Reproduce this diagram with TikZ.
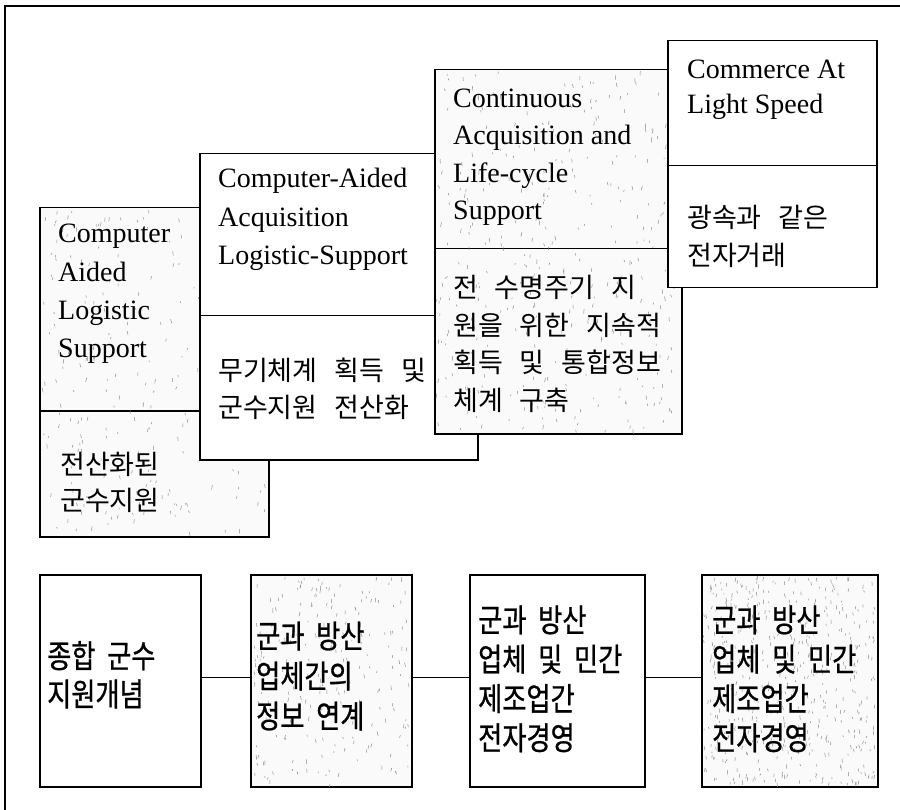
\documentclass[tikz,border=0pt]{standalone}
\usepackage{fontspec}
\setmainfont{Liberation Serif}
\newfontfamily\kofont[WordSpace=2.8]{Noto Sans CJK KR}
\newfontfamily\kobfont[FakeStretch=0.82,FakeBold=0.8,WordSpace=2]{Noto Sans CJK KR}
\tikzset{
  boxw/.style={draw, line width=1.5pt, fill=white, inner sep=0pt, rectangle, anchor=north west},
  boxs/.style={boxw, fill=black!2},
  entext/.style={inner sep=0pt, anchor=west, align=left, font=\fontsize{28}{#1}\selectfont},
  kotext/.style={inner sep=0pt, anchor=west, align=left, font=\kofont\fontsize{27}{#1}\selectfont},
  kobtext/.style={inner sep=0pt, anchor=west, align=left, font=\kobfont\fontsize{32}{#1}\selectfont},
  link/.style={line width=1.3pt},
  frameline/.style={line width=1.5pt},
  speck/.style={draw=black!45, line width=0.5pt}
}
% random short strokes imitating the stippled screen of the shaded boxes
\newcommand\speckbox[5]{%
  \begin{scope}
  \clip (#1,#2) rectangle (#3,#4);
  \foreach \k in {1,...,#5} {
    \pgfmathsetmacro\spx{#1+2+rnd*(#3-#1-4)}
    \pgfmathsetmacro\spy{#2+2+rnd*(#4-#2-4)}
    \pgfmathsetmacro\spl{1.5+rnd*3}
    \pgfmathsetmacro\spd{rnd*2-1}
    \draw[speck] (\spx,\spy) -- ++(\spd,\spl);
  }
  \end{scope}}
\begin{document}
\begin{tikzpicture}[x=1pt,y=-1pt]
\pgfmathsetseed{4242}
\useasboundingbox (0,0) rectangle (900,810);
% outer frame (left and top only)
\coordinate (fb) at (5,810);
\coordinate (fc) at (5,6);
\coordinate (fr) at (900,6);
\draw[frameline] (fb) -- (fc) -- (fr);

% top row: stacked stage boxes
\node[boxs, minimum width=229pt, minimum height=203pt] (b1t) at (39,207) {};
\node[boxs, minimum width=229pt, minimum height=126pt] (b1b) at (39,410) {};
\speckbox{39}{207}{268}{536}{260}
\node[boxw, minimum width=278pt, minimum height=162pt] (b2t) at (199,153) {};
\node[boxw, minimum width=278pt, minimum height=144pt] (b2b) at (199,315) {};
\node[boxs, minimum width=247pt, minimum height=179pt] (b3t) at (434,69) {};
\node[boxs, minimum width=247pt, minimum height=185pt] (b3b) at (434,248) {};
\speckbox{434}{69}{681}{433}{360}
\node[boxw, minimum width=209pt, minimum height=125pt] (b4t) at (667,40) {};
\node[boxw, minimum width=209pt, minimum height=122pt] (b4b) at (667,165) {};

% top row texts
\node[entext=38.3] (t1e) at (58,292.5) {\strut Computer\\\strut Aided\\\strut Logistic\\\strut Support};
\node[kotext=36] (t1k) at (60,485) {\strut 전산화된\\\strut 군수지원};
\node[entext=38.5] (t2e) at (218,218.5) {\strut Computer-Aided\\\strut Acquisition\\\strut Logistic-Support};
\node[kotext=37] (t2k) at (218,391.5) {\strut 무기체계 획득 및\\\strut 군수지원 전산화};
\node[entext=37.3] (t3e) at (453,156) {\strut Continuous\\\strut Acquisition and\\\strut Life-cycle\\\strut Support};
\node[kotext=37.7] (t3k) at (453,346.5) {\strut 전 수명주기 지\\\strut 원을 위한 지속적\\\strut 획득 및 통합정보\\\strut 체계 구축};
\node[entext=35] (t4e) at (687,89.5) {\strut Commerce At\\\strut Light Speed};
\node[kotext=38] (t4k) at (687,239) {\strut 광속과 같은\\\strut 전자거래};

% bottom row
\node[boxw, minimum width=161pt, minimum height=212pt] (bA) at (39,574) {};
\node[boxs, minimum width=161pt, minimum height=212pt] (bB) at (250,574) {};
\speckbox{250}{574}{411}{786}{220}
\node[boxw, minimum width=175pt, minimum height=212pt] (bC) at (469,574) {};
\node[boxs, minimum width=176pt, minimum height=212pt] (bD) at (701,574) {};
\speckbox{701}{574}{877}{786}{480}

\draw[link] ([yshift=3pt]bA.east) -- ([yshift=3pt]bB.west);
\draw[link] ([yshift=3pt]bB.east) -- ([yshift=3pt]bC.west);
\draw[link] ([yshift=3pt]bC.east) -- ([yshift=3pt]bD.west);

\node[kobtext=36] (tA) at (47,679) {\strut 종합 군수\\\strut 지원개념};
\node[kobtext=40] (tB) at (256,680) {\strut 군과 방산\\\strut 업체간의\\\strut 정보 연계};
\node[kobtext=39.3] (tC) at (478,683) {\strut 군과 방산\\\strut 업체 및 민간\\\strut 제조업간\\\strut 전자경영};
\node[kobtext=39.3] (tD) at (712,683) {\strut 군과 방산\\\strut 업체 및 민간\\\strut 제조업간\\\strut 전자경영};
\end{tikzpicture}
\end{document}
